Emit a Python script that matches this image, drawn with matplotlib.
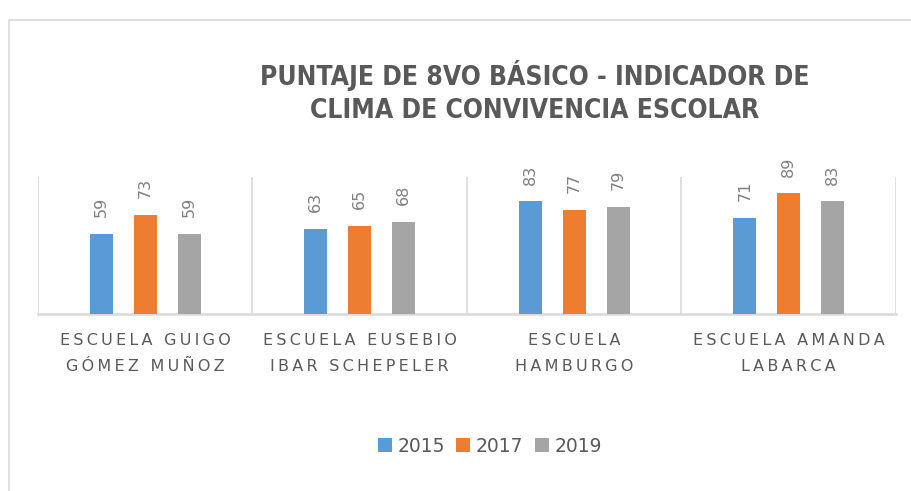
import numpy as np
import matplotlib.pyplot as plt
from matplotlib.patches import Rectangle

# data
schools = ["ESCUELA GUIGO\nGÓMEZ MUÑOZ", "ESCUELA EUSEBIO\nIBAR SCHEPELER",
           "ESCUELA\nHAMBURGO", "ESCUELA AMANDA\nLABARCA"]
years = ["2015", "2017", "2019"]
v2015 = [59, 63, 83, 71]
v2017 = [73, 65, 77, 89]
v2019 = [59, 68, 79, 83]
colors = ["#5B9BD5", "#ED7D31", "#A5A5A5"]


def spaced(s):
    # imitate Excel letter spacing
    lines = []
    for line in s.split("\n"):
        words = ["\u2009".join(w) for w in line.split(" ")]
        lines.append("\u2009 \u2009".join(words))
    return "\n".join(lines)


fig = plt.figure(figsize=(9.12, 4.91), dpi=100)
W, H = 912, 491

# chart frame
fig.patches.append(Rectangle((9 / W, -0.1), 1.2, 1 - 20 / H + 0.1,
                             transform=fig.transFigure, fill=False,
                             edgecolor="#D9D9D9", lw=1.2))

ax = fig.add_axes([38 / W, 1 - 314 / H, (896 - 38) / W, (314 - 177) / H])
x = np.arange(len(schools))
w = 0.109
off = 0.205
for i, (vals, c) in enumerate(zip([v2015, v2017, v2019], colors)):
    xs = x + (i - 1) * off
    ax.bar(xs, vals, width=w, color=c, label=years[i], zorder=3)
    for xi, v in zip(xs, vals):
        ax.annotate(str(v), (xi, v), xytext=(0, 12), textcoords="offset points",
                    rotation=90, ha="center", va="bottom", fontsize=11.5,
                    color="#7F7F7F")

ax.set_xlim(-0.5, 3.5)
ax.set_ylim(0, 101)
for b in np.arange(-0.5, 4, 1):
    ax.axvline(b, color="#D9D9D9", lw=1.2, zorder=1)
for s in ["top", "left", "right"]:
    ax.spines[s].set_visible(False)
ax.spines["bottom"].set_color("#D9D9D9")
ax.spines["bottom"].set_linewidth(1.8)
ax.set_yticks([])
ax.set_xticks(x)
ax.set_xticklabels([spaced(s) for s in schools], fontsize=11.5, color="#595959",
                   linespacing=1.9)
ax.tick_params(axis="x", length=0, pad=14)

fig.text(535 / W, 1 - 92 / H,
         "PUNTAJE DE 8VO BÁSICO - INDICADOR DE\nCLIMA DE CONVIVENCIA ESCOLAR",
         ha="center", va="center", fontsize=19, fontweight="bold",
         fontstretch="condensed", color="#595959", family="DejaVu Sans",
         linespacing=1.35)

fig.legend(loc="center", bbox_to_anchor=(490 / W, 1 - 446 / H), ncol=3,
           frameon=False, fontsize=13.5, handlelength=0.75, handleheight=0.75,
           handletextpad=0.3, columnspacing=0.6, labelcolor="#595959")

fig.savefig("out.png", dpi=100)
